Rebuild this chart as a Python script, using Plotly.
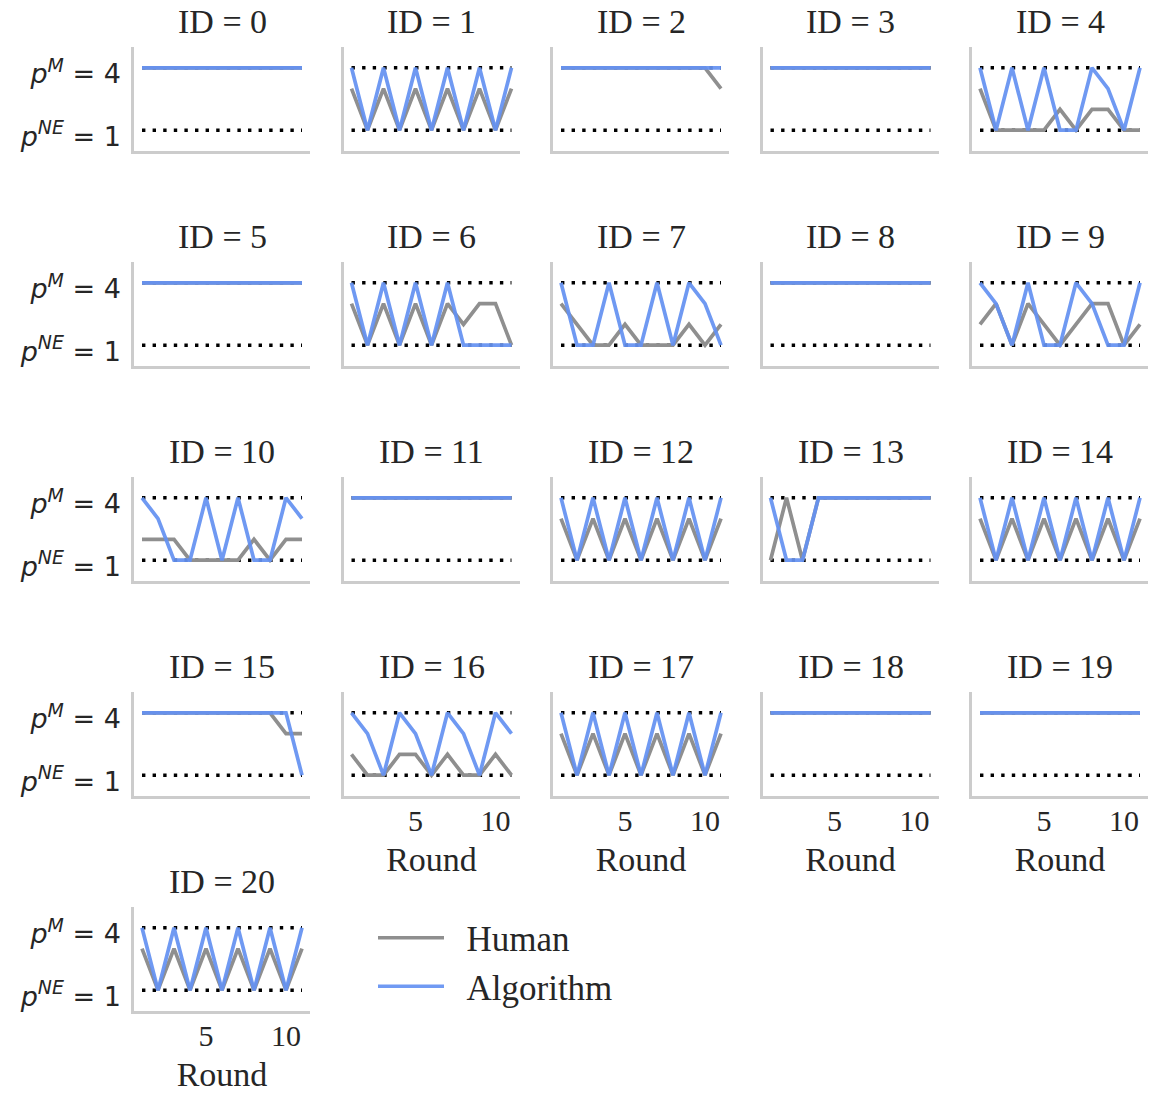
import plotly.graph_objects as go

W, H = 1151, 1093

rounds = list(range(1, 12))
ids = list(range(21))
p_nash = 1
p_monopoly = 4
x_tick_vals = [5, 10]
y_tick_vals = [1, 4]
y_tick_text = ["<i>p<sup>NE</sup></i> = 1", "<i>p<sup>M</sup></i> = 4"]

human_prices = [
    [4, 4, 4, 4, 4, 4, 4, 4, 4, 4, 4],  # 0
    [3, 1, 3, 1, 3, 1, 3, 1, 3, 1, 3],  # 1
    [4, 4, 4, 4, 4, 4, 4, 4, 4, 4, 3],  # 2
    [4, 4, 4, 4, 4, 4, 4, 4, 4, 4, 4],  # 3
    [3, 1, 1, 1, 1, 2, 1, 2, 2, 1, 1],  # 4
    [4, 4, 4, 4, 4, 4, 4, 4, 4, 4, 4],  # 5
    [3, 1, 3, 1, 3, 1, 3, 2, 3, 3, 1],  # 6
    [3, 2, 1, 1, 2, 1, 1, 1, 2, 1, 2],  # 7
    [4, 4, 4, 4, 4, 4, 4, 4, 4, 4, 4],  # 8
    [2, 3, 1, 3, 2, 1, 2, 3, 3, 1, 2],  # 9
    [2, 2, 2, 1, 1, 1, 1, 2, 1, 2, 2],  # 10
    [4, 4, 4, 4, 4, 4, 4, 4, 4, 4, 4],  # 11
    [3, 1, 3, 1, 3, 1, 3, 1, 3, 1, 3],  # 12
    [1, 4, 1, 4, 4, 4, 4, 4, 4, 4, 4],  # 13
    [3, 1, 3, 1, 3, 1, 3, 1, 3, 1, 3],  # 14
    [4, 4, 4, 4, 4, 4, 4, 4, 4, 3, 3],  # 15
    [2, 1, 1, 2, 2, 1, 2, 1, 1, 2, 1],  # 16
    [3, 1, 3, 1, 3, 1, 3, 1, 3, 1, 3],  # 17
    [4, 4, 4, 4, 4, 4, 4, 4, 4, 4, 4],  # 18
    [4, 4, 4, 4, 4, 4, 4, 4, 4, 4, 4],  # 19
    [3, 1, 3, 1, 3, 1, 3, 1, 3, 1, 3],  # 20
]

algo_prices = [
    [4, 4, 4, 4, 4, 4, 4, 4, 4, 4, 4],  # 0
    [4, 1, 4, 1, 4, 1, 4, 1, 4, 1, 4],  # 1
    [4, 4, 4, 4, 4, 4, 4, 4, 4, 4, 4],  # 2
    [4, 4, 4, 4, 4, 4, 4, 4, 4, 4, 4],  # 3
    [4, 1, 4, 1, 4, 1, 1, 4, 3, 1, 4],  # 4
    [4, 4, 4, 4, 4, 4, 4, 4, 4, 4, 4],  # 5
    [4, 1, 4, 1, 4, 1, 4, 1, 1, 1, 1],  # 6
    [4, 1, 1, 4, 1, 1, 4, 1, 4, 3, 1],  # 7
    [4, 4, 4, 4, 4, 4, 4, 4, 4, 4, 4],  # 8
    [4, 3, 1, 4, 1, 1, 4, 3, 1, 1, 4],  # 9
    [4, 3, 1, 1, 4, 1, 4, 1, 1, 4, 3],  # 10
    [4, 4, 4, 4, 4, 4, 4, 4, 4, 4, 4],  # 11
    [4, 1, 4, 1, 4, 1, 4, 1, 4, 1, 4],  # 12
    [4, 1, 1, 4, 4, 4, 4, 4, 4, 4, 4],  # 13
    [4, 1, 4, 1, 4, 1, 4, 1, 4, 1, 4],  # 14
    [4, 4, 4, 4, 4, 4, 4, 4, 4, 4, 1],  # 15
    [4, 3, 1, 4, 3, 1, 4, 3, 1, 4, 3],  # 16
    [4, 1, 4, 1, 4, 1, 4, 1, 4, 1, 4],  # 17
    [4, 4, 4, 4, 4, 4, 4, 4, 4, 4, 4],  # 18
    [4, 4, 4, 4, 4, 4, 4, 4, 4, 4, 4],  # 19
    [4, 1, 4, 1, 4, 1, 4, 1, 4, 1, 4],  # 20
]

series_names = ["Human", "Algorithm"]

HUMAN_COLOR = "#8f8f8f"
ALGO_COLOR = "#6592F2"
TEXT_COLOR = "#262626"
SERIF = "Liberation Serif, DejaVu Serif, serif"
SANS = "DejaVu Sans, sans-serif"

ncols = 5
col_left, col_step, panel_w = 134, 209.5, 176
row_top, row_step, panel_h = 47, 215, 104

fig = go.Figure()
layout_axes = {}
annotations = []

for k, pid in enumerate(ids):
    r, c = divmod(k, ncols)
    suffix = "" if k == 0 else str(k + 1)
    xa, ya = "x" + suffix, "y" + suffix

    for level in (p_monopoly, p_nash):
        fig.add_trace(go.Scatter(
            x=[rounds[0], rounds[-1]], y=[level, level], mode="lines",
            line=dict(color="black", width=3.4, dash="3.4px,7.2px"),
            xaxis=xa, yaxis=ya, showlegend=False, hoverinfo="skip"))

    fig.add_trace(go.Scatter(
        x=rounds, y=human_prices[k], mode="lines",
        name="\u00a0\u00a0" + series_names[0],
        line=dict(color=HUMAN_COLOR, width=3.7),
        legendgroup="human", showlegend=(k == 0), xaxis=xa, yaxis=ya))
    fig.add_trace(go.Scatter(
        x=rounds, y=algo_prices[k], mode="lines",
        name="\u00a0\u00a0" + series_names[1],
        line=dict(color=ALGO_COLOR, width=3.7), opacity=0.93,
        legendgroup="algo", showlegend=(k == 0), xaxis=xa, yaxis=ya))

    x0 = (col_left + c * col_step) / W
    x1 = x0 + panel_w / W
    top = row_top + r * row_step
    y1 = 1 - top / H
    y0 = 1 - (top + panel_h) / H

    bottom_in_col = (k + ncols >= len(ids))
    first_col = (c == 0)

    xaxis_cfg = dict(
        domain=[x0, x1], anchor=ya, range=[0.5, 11.5],
        showgrid=False, zeroline=False, showline=True,
        linecolor="#cccccc", linewidth=2.5, ticks="",
        tickvals=x_tick_vals, showticklabels=bottom_in_col,
        tickfont=dict(family=SERIF, size=30, color=TEXT_COLOR),
        ticklabelstandoff=-4,
    )
    if bottom_in_col:
        xaxis_cfg["title"] = dict(
            text="Round", font=dict(family=SERIF, size=34, color=TEXT_COLOR),
            standoff=12)
    layout_axes["xaxis" + suffix] = xaxis_cfg

    layout_axes["yaxis" + suffix] = dict(
        domain=[y0, y1], anchor=xa, range=[0, 5],
        showgrid=False, zeroline=False, showline=True,
        linecolor="#cccccc", linewidth=2.5, ticks="",
        tickvals=y_tick_vals, ticktext=y_tick_text,
        showticklabels=first_col,
        tickfont=dict(family=SANS, size=27, color=TEXT_COLOR),
        ticklabelstandoff=5, ticklabelshift=6,
    )
    annotations.append(dict(
        text=f"ID = {pid}", x=(x0 + x1) / 2, y=y1, xref="paper", yref="paper",
        xanchor="center", yanchor="bottom", yshift=5, showarrow=False,
        font=dict(family=SERIF, size=34, color=TEXT_COLOR)))

fig.update_layout(
    width=W, height=H,
    margin=dict(l=0, r=0, t=0, b=0),
    paper_bgcolor="white", plot_bgcolor="white",
    annotations=annotations,
    legend=dict(x=373 / W, y=1 - 962 / H, xanchor="left", yanchor="middle",
                font=dict(family=SERIF, size=35, color=TEXT_COLOR),
                bgcolor="rgba(0,0,0,0)", itemwidth=66, tracegroupgap=0),
    **layout_axes,
)

fig.write_html(
    "out.html",
    config={"displayModeBar": False},
    post_script="document.body.style.margin='0';document.body.style.overflow='hidden';",
)
